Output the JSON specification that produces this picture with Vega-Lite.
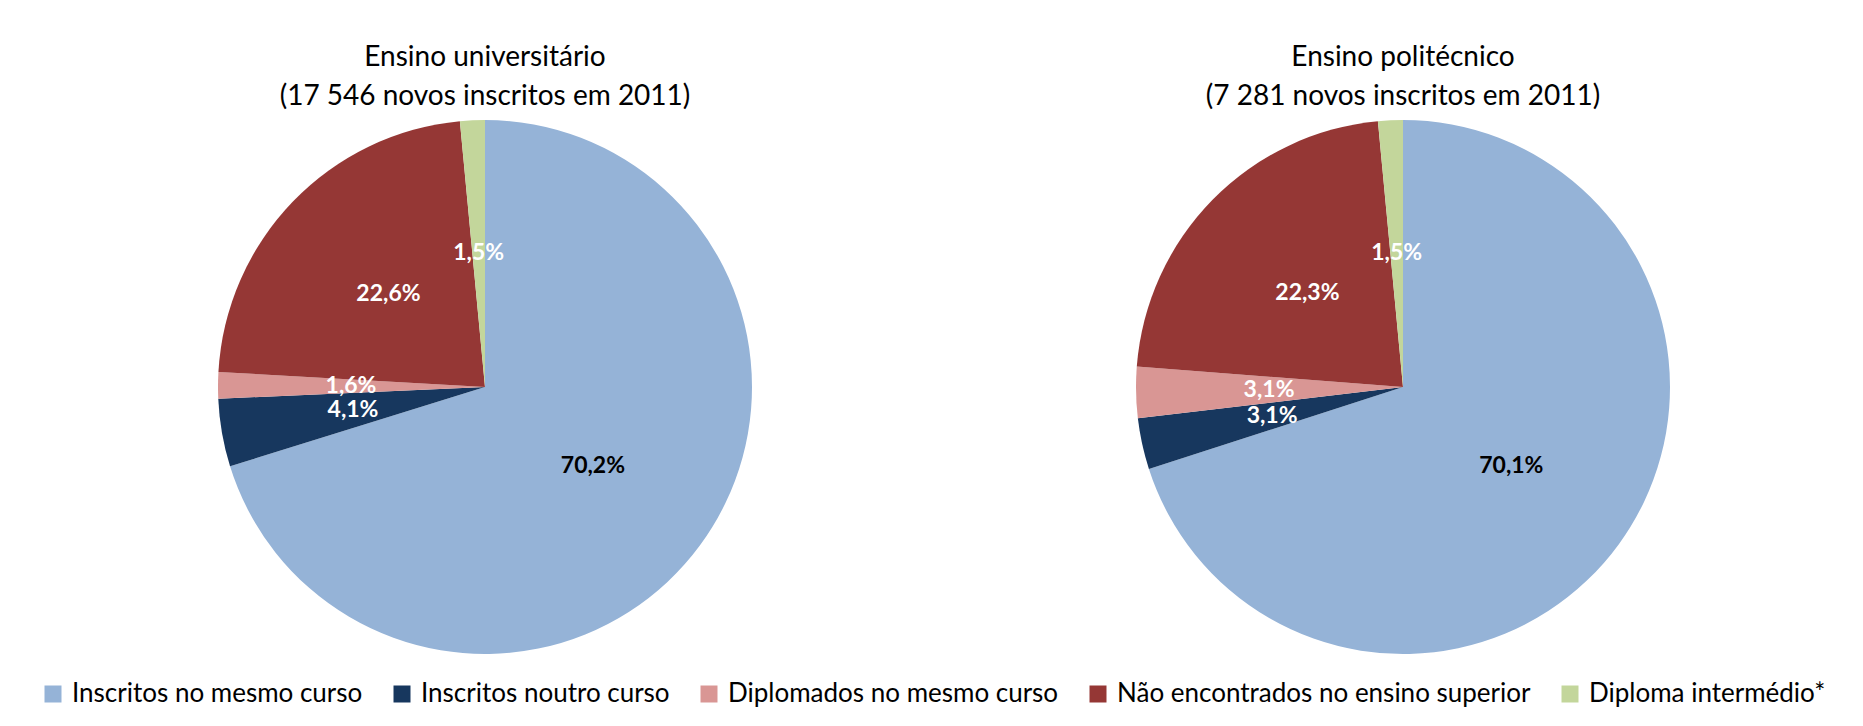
{
  "$schema": "https://vega.github.io/schema/vega-lite/v6.json",
  "background": "white",
  "padding": {"left": 10, "top": 44, "right": 0, "bottom": 0},
  "data": {
    "values": [
      {"ensino": "Ensino universitário", "categoria": "Inscritos no mesmo curso", "ordem": 1, "pct": 0.702},
      {"ensino": "Ensino universitário", "categoria": "Inscritos noutro curso", "ordem": 2, "pct": 0.041},
      {"ensino": "Ensino universitário", "categoria": "Diplomados no mesmo curso", "ordem": 3, "pct": 0.016},
      {"ensino": "Ensino universitário", "categoria": "Não encontrados no ensino superior", "ordem": 4, "pct": 0.226},
      {"ensino": "Ensino universitário", "categoria": "Diploma intermédio*", "ordem": 5, "pct": 0.015},
      {"ensino": "Ensino politécnico", "categoria": "Inscritos no mesmo curso", "ordem": 1, "pct": 0.701},
      {"ensino": "Ensino politécnico", "categoria": "Inscritos noutro curso", "ordem": 2, "pct": 0.031},
      {"ensino": "Ensino politécnico", "categoria": "Diplomados no mesmo curso", "ordem": 3, "pct": 0.031},
      {"ensino": "Ensino politécnico", "categoria": "Não encontrados no ensino superior", "ordem": 4, "pct": 0.223},
      {"ensino": "Ensino politécnico", "categoria": "Diploma intermédio*", "ordem": 5, "pct": 0.015}
    ]
  },
  "spacing": 0,
  "hconcat": [
    {
      "title": {"text": ["Ensino universitário", "(17 546 novos inscritos em 2011)"]},
      "width": 950,
      "height": 536,
      "transform": [{"filter": "datum.ensino == 'Ensino universitário'"}],
      "encoding": {
        "theta": {"field": "pct", "type": "quantitative", "stack": true},
        "order": {"field": "ordem", "type": "quantitative"},
        "detail": {"field": "categoria", "type": "nominal"}
      },
      "layer": [
        {
          "mark": {"type": "arc", "outerRadius": 267},
          "encoding": {
            "color": {
              "field": "categoria", "type": "nominal",
              "scale": {
                "domain": ["Inscritos no mesmo curso", "Inscritos noutro curso", "Diplomados no mesmo curso", "Não encontrados no ensino superior", "Diploma intermédio*"],
                "range": ["#95B3D7", "#17375E", "#D99694", "#953735", "#C3D69B"]
              },
              "legend": {
                "orient": "none", "legendX": 30, "legendY": 562, "direction": "horizontal",
                "title": null, "symbolType": "square", "symbolSize": 289, "symbolStrokeWidth": 0,
                "labelFontSize": 26, "labelFont": "Lato", "labelColor": "black", "labelLimit": 600,
                "columnPadding": 26, "labelOffset": 6
              }
            }
          }
        },
        {
          "mark": {"type": "text", "radius": 134, "font": "Lato", "fontWeight": "bold", "fontSize": 23, "align": "center", "baseline": "middle"},
          "encoding": {
            "text": {"field": "pct", "type": "quantitative", "format": ".1%"},
            "color": {"condition": {"test": "datum.ordem == 1", "value": "black"}, "value": "white"}
          }
        }
      ]
    },
    {
      "title": {"text": ["Ensino politécnico", "(7 281 novos inscritos em 2011)"]},
      "width": 886,
      "height": 536,
      "transform": [{"filter": "datum.ensino == 'Ensino politécnico'"}],
      "encoding": {
        "theta": {"field": "pct", "type": "quantitative", "stack": true},
        "order": {"field": "ordem", "type": "quantitative"},
        "detail": {"field": "categoria", "type": "nominal"}
      },
      "layer": [
        {
          "mark": {"type": "arc", "outerRadius": 267},
          "encoding": {
            "color": {"field": "categoria", "type": "nominal"}
          }
        },
        {
          "mark": {"type": "text", "radius": 134, "font": "Lato", "fontWeight": "bold", "fontSize": 23, "align": "center", "baseline": "middle"},
          "encoding": {
            "text": {"field": "pct", "type": "quantitative", "format": ".1%"},
            "color": {"condition": {"test": "datum.ordem == 1", "value": "black"}, "value": "white"}
          }
        }
      ]
    }
  ],
  "resolve": {"scale": {"color": "shared"}},
  "config": {
    "view": {"stroke": null},
    "locale": {"number": {"decimal": ",", "thousands": " ", "grouping": [3], "currency": ["", " €"]}},
    "title": {"font": "Lato", "fontSize": 28, "fontWeight": "normal", "lineHeight": 39, "offset": 8, "color": "black", "anchor": "middle"}
  }
}
